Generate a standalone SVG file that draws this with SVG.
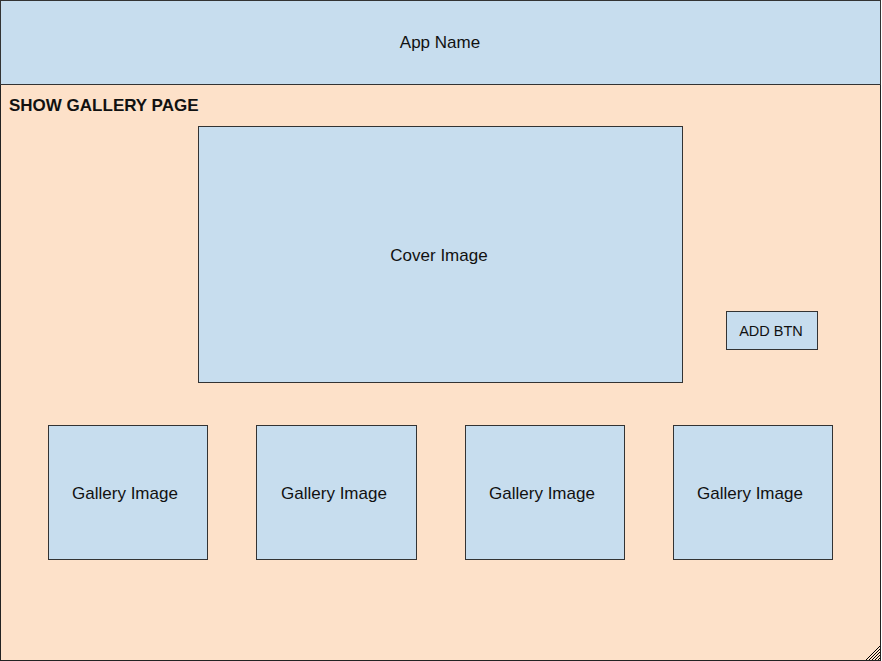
<svg xmlns="http://www.w3.org/2000/svg" width="882" height="661" viewBox="0 0 882 661">
<style>
.box{fill:#c7ddee;stroke:#333;stroke-width:1}
.t{font-family:"Liberation Sans",Arial,sans-serif;font-size:17px;fill:#111;text-anchor:middle;dominant-baseline:central}
.h{stroke:#000;stroke-width:1}
</style>
<g id="page">
<rect x="0.5" y="84.5" width="880" height="576" fill="#fde1c9" stroke="#222"/>
<text x="9" y="111" font-family="Liberation Sans,Arial,sans-serif" font-size="17" font-weight="bold" fill="#111">SHOW GALLERY PAGE</text>
<g class="h">
<line x1="866" y1="660" x2="880" y2="646"/>
<line x1="869" y1="660" x2="880" y2="649"/>
<line x1="872" y1="660" x2="880" y2="652"/>
<line x1="875" y1="660" x2="880" y2="655"/>
<line x1="878" y1="660" x2="880" y2="658"/>
</g>
</g>
<g id="header">
<rect class="box" x="0.5" y="0.5" width="880" height="84" stroke="#555"/>
<text class="t" x="440" y="42">App Name</text>
</g>
<g id="cover">
<rect class="box" x="198.5" y="126.5" width="484" height="256"/>
<text class="t" x="439" y="255">Cover Image</text>
</g>
<g id="addbtn">
<rect class="box" x="726.5" y="311.5" width="91" height="38"/>
<text class="t" x="771" y="331" style="font-size:14.5px">ADD BTN</text>
</g>
<g id="g1">
<rect class="box" x="48.5" y="425.5" width="159" height="134"/>
<text class="t" x="125" y="493">Gallery Image</text>
</g>
<g id="g2">
<rect class="box" x="256.5" y="425.5" width="160" height="134"/>
<text class="t" x="334" y="493">Gallery Image</text>
</g>
<g id="g3">
<rect class="box" x="465.5" y="425.5" width="159" height="134"/>
<text class="t" x="542" y="493">Gallery Image</text>
</g>
<g id="g4">
<rect class="box" x="673.5" y="425.5" width="159" height="134"/>
<text class="t" x="750" y="493">Gallery Image</text>
</g>
<g id="connectors"/>
</svg>
